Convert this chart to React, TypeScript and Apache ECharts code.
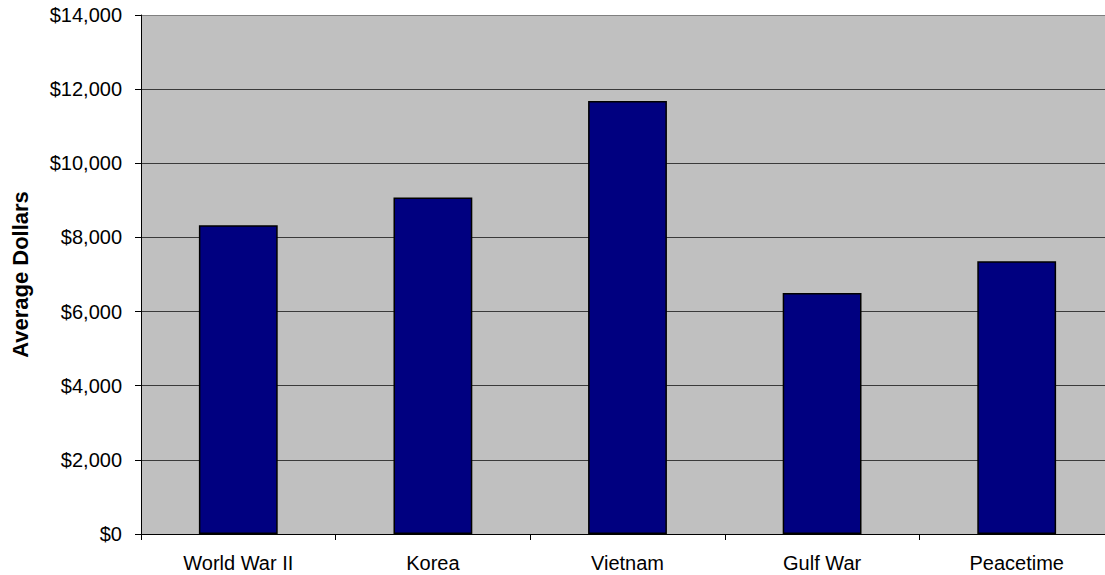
import React, { useEffect, useRef } from "react";
import * as echarts from "echarts";

const categories = ["World War II", "Korea", "Vietnam", "Gulf War", "Peacetime"];
const averageDollars = [8330, 9080, 11680, 6500, 7360];
const yMin = 0;
const yMax = 14000;
const yStep = 2000;

export default function App() {
  const ref = useRef<HTMLDivElement>(null);
  useEffect(() => {
    if (!ref.current) return;
    const chart = echarts.init(ref.current, null, { renderer: "svg" });
    const font = "'Liberation Sans', Arial, sans-serif";
    const nLines = (yMax - yMin) / yStep + 1;
    const gridColors: string[] = [];
    for (let i = 0; i < nLines; i++) gridColors.push(i === nLines - 1 ? "#808080" : "#3a3a3a");
    chart.setOption({
      animation: false,
      backgroundColor: "#ffffff",
      grid: {
        left: 141,
        top: 15,
        right: 0,
        bottom: 41,
        show: true,
        backgroundColor: "#c0c0c0",
        borderWidth: 0,
      },
      xAxis: {
        type: "category",
        data: categories,
        boundaryGap: true,
        axisLine: { show: true, lineStyle: { color: "#000", width: 1 } },
        axisTick: { show: true, length: 6, alignWithLabel: false, lineStyle: { color: "#000" } },
        axisLabel: { color: "#000", fontSize: 20, fontFamily: font, margin: 19 },
        splitLine: { show: false },
      },
      yAxis: {
        type: "value",
        min: yMin,
        max: yMax,
        interval: yStep,
        name: "Average Dollars",
        nameLocation: "middle",
        nameRotate: 90,
        nameGap: 110,
        nameTextStyle: { color: "#000", fontSize: 22, fontWeight: "bold", fontFamily: font },
        axisLine: { show: true, lineStyle: { color: "#000", width: 1 } },
        axisTick: { show: true, length: 6, inside: false, lineStyle: { color: "#000" } },
        axisLabel: {
          color: "#000",
          fontSize: 20,
          fontFamily: font,
          margin: 19,
          formatter: (v: number) => "$" + v.toLocaleString("en-US"),
        },
        splitLine: { show: true, lineStyle: { color: gridColors, width: 1 } },
      },
      series: [
        {
          type: "bar",
          data: averageDollars,
          barWidth: "40.5%",
          itemStyle: { color: "#000080", borderColor: "#000", borderWidth: 1.5 },
        },
      ],
    });
    return () => chart.dispose();
  }, []);
  return (
    <div
      ref={ref}
      style={{ position: "fixed", left: 0, top: 0, width: 1114, height: 575, overflow: "hidden" }}
    />
  );
}
